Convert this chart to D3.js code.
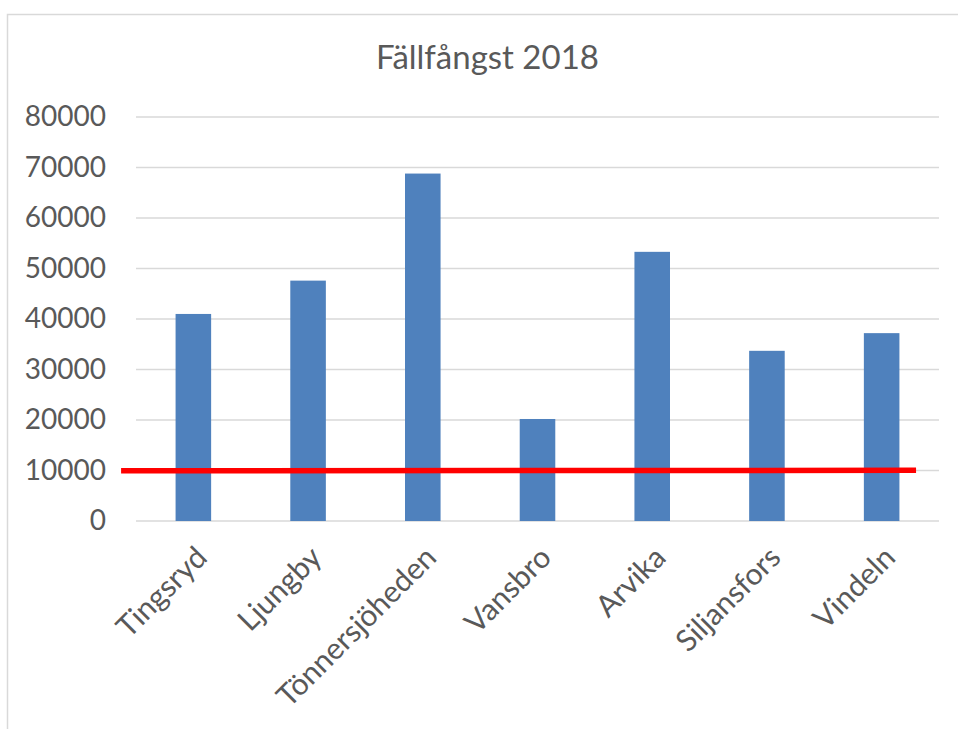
<!DOCTYPE html>
<html>
<head>
<meta charset="utf-8">
<script src="https://cdn.jsdelivr.net/npm/d3@7"></script>
<style>
  html, body { margin: 0; padding: 0; background: #fff; }
  svg { display: block; }
  text { font-family: Lato, "Open Sans", sans-serif; fill: #595959; }
</style>
</head>
<body>
<svg id="chart" width="958" height="729"></svg>
<script>
const title = "Fällfångst 2018";
const categories = ["Tingsryd", "Ljungby", "Tönnersjöheden", "Vansbro", "Arvika", "Siljansfors", "Vindeln"];
const values = [41000, 47600, 68800, 20200, 53300, 33700, 37200];
const yTicks = [0, 10000, 20000, 30000, 40000, 50000, 60000, 70000, 80000];
// hand-drawn red reference line: position in category units (0 = first bar centre) and value
const refLinePos = [-0.63, 6.30];
const refLineVals = [9960, 10040];

const svg = d3.select("#chart");
const plot = { left: 136, right: 939, top: 117, bottom: 521 };

// chart frame (cropped on right and bottom)
svg.append("rect")
  .attr("x", 7.5).attr("y", 14.5)
  .attr("width", 1000).attr("height", 1000)
  .attr("fill", "#fff").attr("stroke", "#d9d9d9").attr("stroke-width", 1.5);

const x = d3.scaleBand().domain(categories)
  .range([plot.left, plot.right]).paddingInner(0.69).paddingOuter(0.345);
const y = d3.scaleLinear().domain([0, 80000]).range([plot.bottom, plot.top]);

// gridlines
svg.append("g").selectAll("line").data(yTicks).join("line")
  .attr("x1", plot.left).attr("x2", plot.right)
  .attr("y1", d => y(d)).attr("y2", d => y(d))
  .attr("stroke", "#d9d9d9").attr("stroke-width", 1.3);

// y axis labels
const yAxis = d3.axisLeft(y).tickValues(yTicks).tickSize(0).tickPadding(0).tickFormat(d3.format("d"));
const gy = svg.append("g").attr("transform", "translate(106,0)").call(yAxis);
gy.select(".domain").remove();
gy.selectAll("text").attr("font-size", 28).style("font-family", "Lato, 'Open Sans', sans-serif").attr("fill", "#595959");

// title
svg.append("text")
  .attr("x", 487.5).attr("y", 69)
  .attr("text-anchor", "middle")
  .attr("font-size", 33)
  .text(title);

// bars
svg.append("g").selectAll("rect").data(categories).join("rect")
  .attr("x", d => x(d)).attr("width", x.bandwidth())
  .attr("y", (d, i) => y(values[i]))
  .attr("height", (d, i) => y(0) - y(values[i]))
  .attr("fill", "#4f81bd");

// x axis labels
const xAxis = d3.axisBottom(x).tickSize(0).tickPadding(0);
const gx = svg.append("g").attr("transform", `translate(0,${plot.bottom})`).call(xAxis);
gx.select(".domain").remove();
gx.selectAll("text")
  .attr("font-size", 30).style("font-family", "Lato, 'Open Sans', sans-serif").attr("fill", "#595959")
  .attr("text-anchor", "end")
  .attr("x", 0).attr("y", 0).attr("dy", "0.35em")
  .attr("transform", "translate(8,31) rotate(-45)");

// red reference line
const xi = d3.scaleLinear().domain([0, categories.length - 1])
  .range([x(categories[0]) + x.bandwidth() / 2, x(categories[categories.length - 1]) + x.bandwidth() / 2]);
const pts = refLinePos.map((p, i) => [xi(p), y(refLineVals[i])]);
svg.append("path")
  .attr("d", d3.line()(pts))
  .attr("stroke", "#ff0000").attr("stroke-width", 5.5).attr("fill", "none");
</script>
</body>
</html>
